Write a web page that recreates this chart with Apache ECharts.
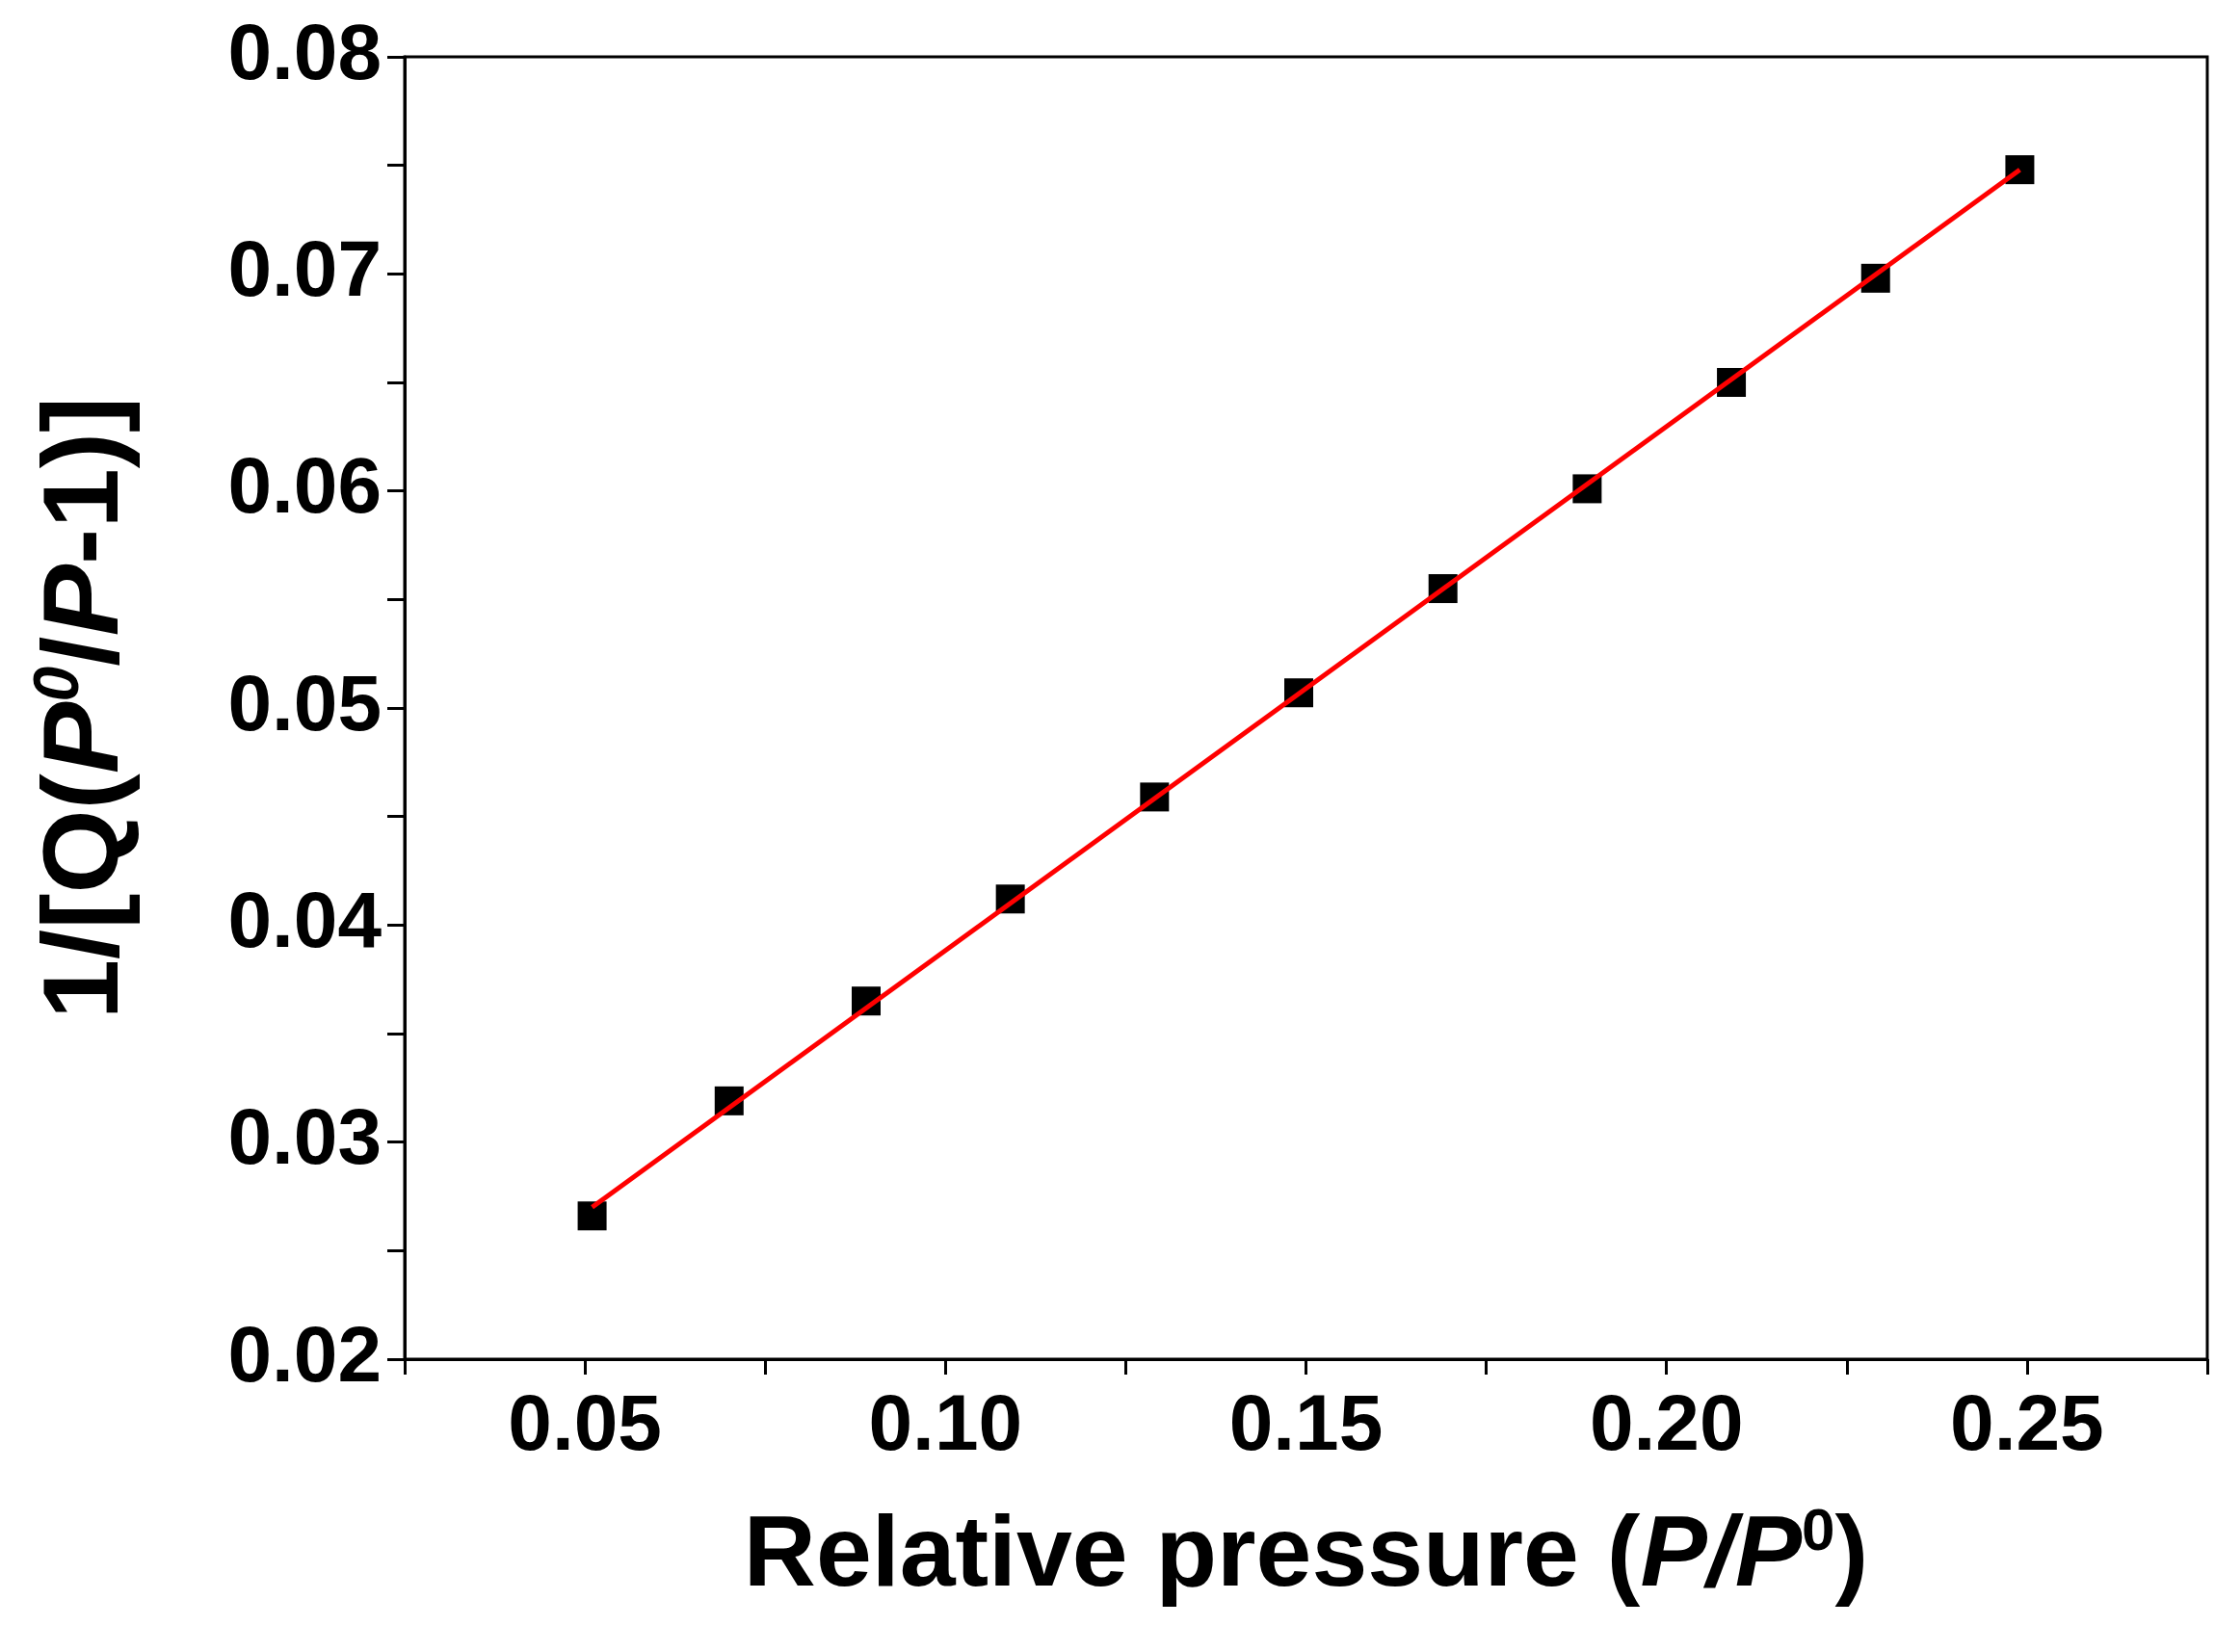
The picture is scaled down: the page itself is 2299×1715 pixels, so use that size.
<!DOCTYPE html>
<html>
<head>
<meta charset="utf-8">
<script src="https://cdn.jsdelivr.net/npm/echarts@6/dist/echarts.min.js"></script>
<style>
  html, body { margin: 0; padding: 0; background: #fff; }
  #chart { width: 2299px; height: 1715px; }
</style>
</head>
<body>
<div id="chart"></div>
<script>
// 数据
var pressure = [0.051, 0.070, 0.089, 0.109, 0.129, 0.149, 0.169, 0.189, 0.209, 0.229, 0.249];
var bet = [0.0266, 0.0319, 0.0365, 0.0412, 0.0459, 0.0507, 0.0555, 0.0601, 0.0650, 0.0698, 0.0748];
var fitX = [0.051, 0.249];
var fitY = [0.0270, 0.0748];

(function () {
  var myChart = echarts.init(document.getElementById('chart'));
  var font = 'Liberation Sans, Arial, sans-serif';
  var option = {
    animation: false,
    grid: {
      left: 420, top: 59, right: 8, bottom: 304,
      show: true, borderColor: '#000', borderWidth: 3
    },
    xAxis: {
      type: 'value',
      min: 0.025, max: 0.275, interval: 0.025,
      splitLine: { show: false },
      axisLine: { lineStyle: { color: '#000', width: 3 } },
      axisTick: { length: 16, lineStyle: { color: '#000', width: 3 } },
      axisLabel: {
        margin: 30, color: '#000', fontSize: 82, fontWeight: 'bold', fontFamily: font,
        formatter: function (v) {
          var k = Math.round(v / 0.025);
          return k % 2 === 0 ? v.toFixed(2) : '';
        }
      },
      name: '{n|Relative pressure (}{i|P/P}{s|0}{n|)}',
      nameLocation: 'middle',
      nameGap: 150,
      nameTextStyle: {
        rich: {
          n: { fontSize: 104, fontWeight: 'bold', fontFamily: font, color: '#000' },
          i: { fontSize: 104, fontWeight: 'bold', fontStyle: 'italic', fontFamily: font, color: '#000' },
          s: { fontSize: 62, fontWeight: 'bold', fontFamily: font, color: '#000', verticalAlign: 'top', padding: [0, 0, 50, 0] }
        }
      }
    },
    yAxis: {
      type: 'value',
      min: 0.02, max: 0.08, interval: 0.01,
      splitLine: { show: false },
      axisLine: { lineStyle: { color: '#000', width: 3 } },
      axisTick: { length: 18, lineStyle: { color: '#000', width: 3 } },
      minorTick: { show: true, splitNumber: 2, length: 18, lineStyle: { color: '#000', width: 3 } },
      axisLabel: {
        margin: 24, color: '#000', fontSize: 82, fontWeight: 'bold', fontFamily: font,
        formatter: function (v) { return v.toFixed(2); }
      },
      name: '{n|1/[Q(}{i|P}{s|0}{n|/}{i|P}{n|-1)]}',
      nameLocation: 'middle',
      nameGap: 268,
      nameTextStyle: {
        rich: {
          n: { fontSize: 112, fontWeight: 'bold', fontFamily: font, color: '#000' },
          i: { fontSize: 112, fontWeight: 'bold', fontStyle: 'italic', fontFamily: font, color: '#000' },
          s: { fontSize: 66, fontWeight: 'bold', fontStyle: 'italic', fontFamily: font, color: '#000', verticalAlign: 'top', padding: [0, 0, 56, 0] }
        }
      }
    },
    series: [
      {
        name: 'data',
        type: 'scatter',
        symbol: 'rect',
        symbolSize: 30,
        itemStyle: { color: '#000', opacity: 1 },
        data: pressure.map(function (x, i) { return [x, bet[i]]; }),
        z: 2
      },
      {
        name: 'fit',
        type: 'line',
        showSymbol: false,
        lineStyle: { color: '#ff0000', width: 5 },
        data: fitX.map(function (x, i) { return [x, fitY[i]]; }),
        z: 3
      }
    ]
  };
  myChart.setOption(option);
})();
</script>
</body>
</html>
